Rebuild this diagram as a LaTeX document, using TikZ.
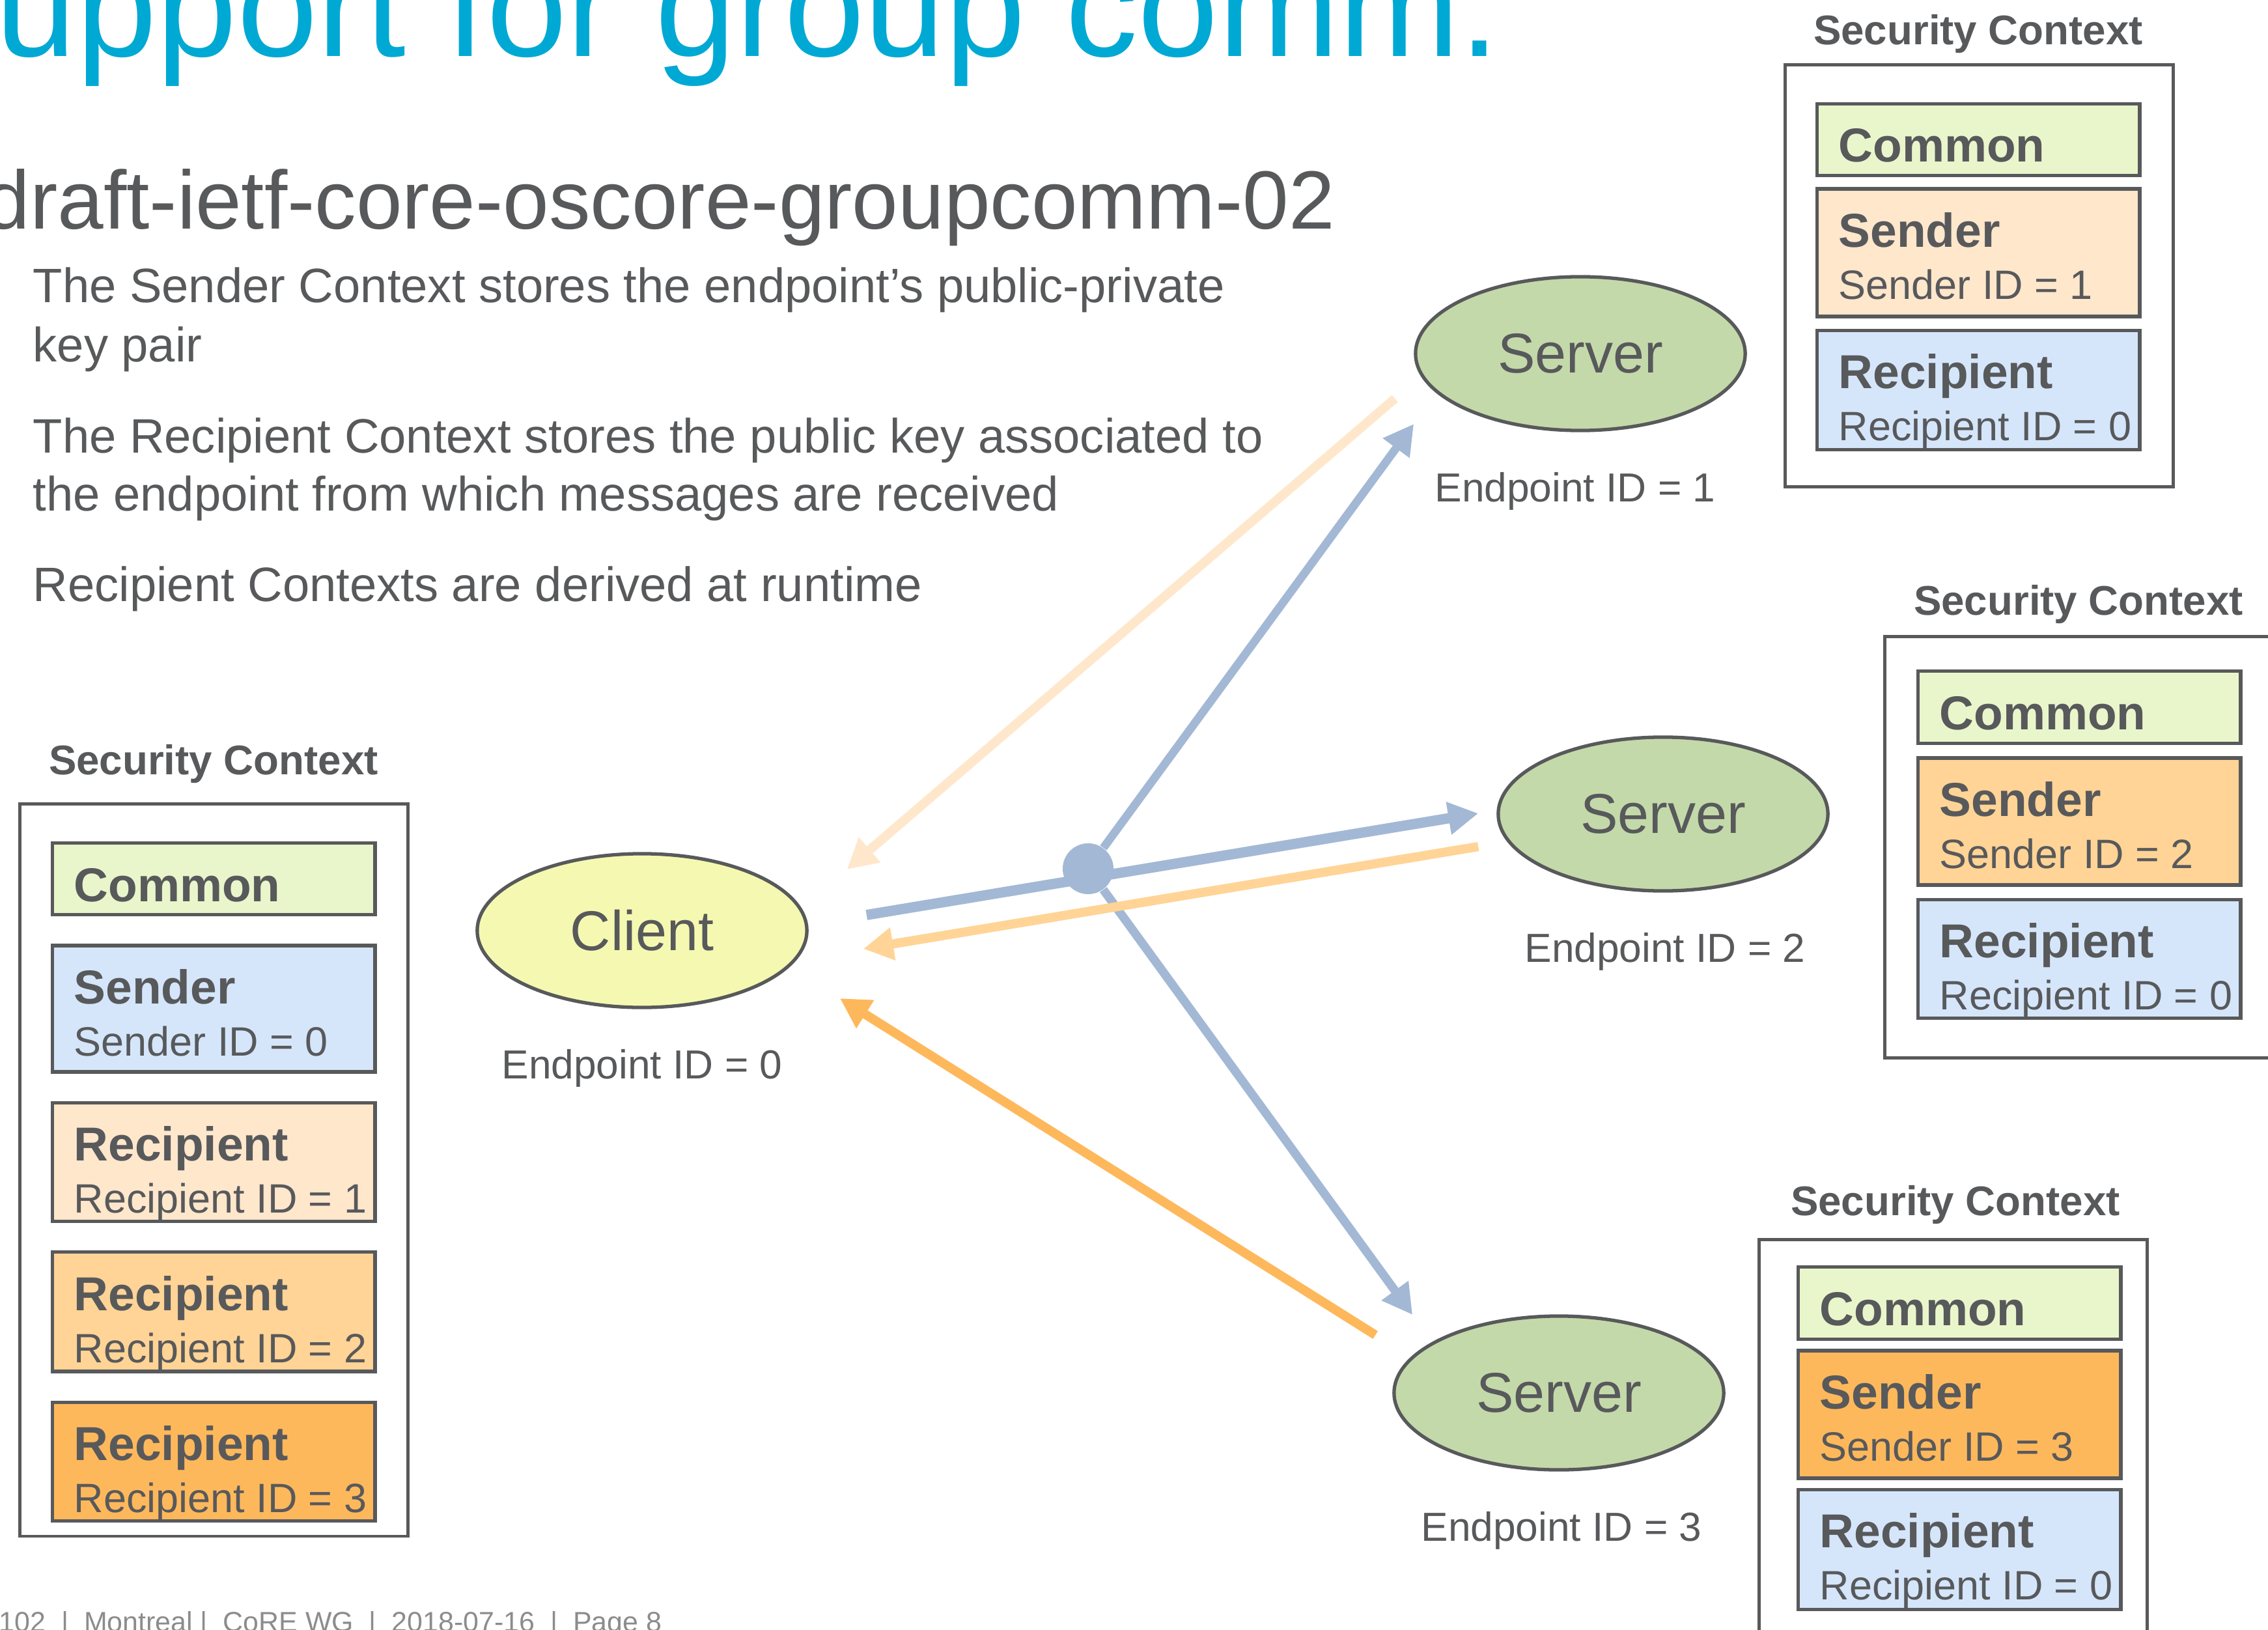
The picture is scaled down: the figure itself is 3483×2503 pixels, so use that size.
\documentclass[tikz,border=0pt]{standalone}
\usepackage{fontspec}
\setmainfont{Liberation Sans}
\usetikzlibrary{calc, positioning, shapes.geometric, arrows.meta}

\definecolor{textgray}{HTML}{58595B}
\definecolor{titlecyan}{HTML}{00A9D4}
\definecolor{footgray}{HTML}{8C8C8C}
\definecolor{servergreen}{HTML}{C4D9AA}
\definecolor{clientyellow}{HTML}{F5F8B0}
\definecolor{commongreen}{HTML}{E9F6CB}
\definecolor{ctxblue}{HTML}{D5E6FB}
\definecolor{peach}{HTML}{FFE7CC}
\definecolor{midorange}{HTML}{FFD496}
\definecolor{darkorange}{HTML}{FEB85C}
\definecolor{linkblue}{HTML}{A3B8D4}

\begin{document}
\begin{tikzpicture}[x=0.01cm, y=-0.01cm,
    ctxframe/.style={draw=textgray, line width=1.3pt, anchor=north west, minimum width=5.96cm, inner sep=0pt},
    partbox/.style={draw=textgray, line width=1.5pt, minimum width=4.95cm, inner sep=0pt},
    parthead/.style={anchor=base west, inner sep=0pt, text=textgray, font=\fontsize{20.8}{24}\selectfont\bfseries},
    partid/.style={anchor=base west, inner sep=0pt, text=textgray, font=\fontsize{17.9}{21}\selectfont},
    ctxtitle/.style={anchor=base, inner sep=0pt, text=textgray, font=\fontsize{18.1}{21}\selectfont\bfseries},
    endpoint/.style={ellipse, draw=textgray, line width=1.5pt, minimum width=5.06cm, minimum height=2.36cm, inner sep=0pt, text=textgray, font=\fontsize{24.5}{28}\selectfont},
    idlabel/.style={anchor=base, inner sep=0pt, text=textgray, font=\fontsize{17.7}{21}\selectfont},
    bodytext/.style={anchor=base west, inner sep=0pt, text=textgray, font=\fontsize{21.1}{25}\selectfont},
    msgarrow/.style={line width=4pt, -{Triangle[length=0.46cm, width=0.48cm]}},
  ]

    \useasboundingbox (0,0) rectangle (3483,2503);

    % heading
    \node[anchor=base west, inner sep=0pt, text=titlecyan, font=\fontsize{63.2}{70}\selectfont] (title) at (-7,87) {upport for group comm.};
    \node[anchor=base west, inner sep=0pt, text=textgray, font=\fontsize{36.1}{40}\selectfont] (subtitle) at (-25,351) {draft-ietf-core-oscore-groupcomm-02};

    \node[bodytext] (b1) at (50,465) {The Sender Context stores the endpoint’s public-private};
    \node[bodytext] (b2) at (50,555) {key pair};
    \node[bodytext] (b3) at (50,695) {The Recipient Context stores the public key associated to};
    \node[bodytext] (b4) at (50,784) {the endpoint from which messages are received};
    \node[bodytext] (b5) at (50,923) {Recipient Contexts are derived at runtime};

    % endpoints
    \node[endpoint, fill=clientyellow] (client) at (986,1429) {Client};
    \node[endpoint, fill=servergreen] (server1) at (2427,543) {Server};
    \node[endpoint, fill=servergreen] (server2) at (2554,1250) {Server};
    \node[endpoint, fill=servergreen] (server3) at (2394,2139) {Server};

    \node[idlabel] (id0) at ($(client.south)+(0,107)$) {Endpoint ID = 0};
    \node[idlabel] (id1) at ($(server1.south)+(-8,107)$) {Endpoint ID = 1};
    \node[idlabel] (id2) at ($(server2.south)+(3,107)$) {Endpoint ID = 2};
    \node[idlabel] (id3) at ($(server3.south)+(4,107)$) {Endpoint ID = 3};

    % client context
    \node[ctxframe, minimum height=11.24cm] (ctx0) at (28,1232) {};
    \node[ctxtitle] (ctx0-t) at (328,1189) {Security Context};
    \node[partbox, fill=commongreen, minimum height=1.10cm, anchor=north west] (ctx0-c) at (78,1292) {};
    \node[partbox, fill=ctxblue, minimum height=1.94cm, below=0.42cm of ctx0-c] (ctx0-s) {};
    \node[partbox, fill=peach, minimum height=1.82cm, below=0.42cm of ctx0-s] (ctx0-r1) {};
    \node[partbox, fill=midorange, minimum height=1.83cm, below=0.42cm of ctx0-r1] (ctx0-r2) {};
    \node[partbox, fill=darkorange, minimum height=1.82cm, below=0.42cm of ctx0-r2] (ctx0-r3) {};

    % server contexts
    \node[ctxframe, minimum height=6.48cm] (ctx1) at (2739,97) {};
    \node[ctxtitle] (ctx1-t) at (3038,69) {Security Context};
    \node[partbox, fill=commongreen, minimum height=1.10cm, anchor=north west] (ctx1-c) at (2788,157) {};
    \node[partbox, fill=peach, minimum height=1.96cm, below=0.15cm of ctx1-c] (ctx1-s) {};
    \node[partbox, fill=ctxblue, minimum height=1.83cm, below=0.16cm of ctx1-s] (ctx1-r) {};

    \node[ctxframe, minimum height=6.47cm] (ctx2) at (2892,975) {};
    \node[ctxtitle] (ctx2-t) at (3192,944) {Security Context};
    \node[partbox, fill=commongreen, minimum height=1.11cm, anchor=north west] (ctx2-c) at (2943,1028) {};
    \node[partbox, fill=midorange, minimum height=1.95cm, below=0.17cm of ctx2-c] (ctx2-s) {};
    \node[partbox, fill=ctxblue, minimum height=1.82cm, below=0.17cm of ctx2-s] (ctx2-r) {};

    \node[ctxframe, minimum height=6.48cm] (ctx3) at (2699,1901) {};
    \node[ctxtitle] (ctx3-t) at (3003,1866) {Security Context};
    \node[partbox, fill=commongreen, minimum height=1.11cm, anchor=north west] (ctx3-c) at (2759,1943) {};
    \node[partbox, fill=darkorange, minimum height=1.96cm, below=0.12cm of ctx3-c] (ctx3-s) {};
    \node[partbox, fill=ctxblue, minimum height=1.84cm, below=0.12cm of ctx3-s] (ctx3-r) {};

    \foreach \b in {ctx0-c, ctx1-c, ctx2-c, ctx3-c}
        \node[parthead] (\b-h) at ($(\b.north west)+(35,92)$) {Common};
    \foreach \b/\h/\i in {ctx0-s/Sender/Sender ID = 0, ctx0-r1/Recipient/Recipient ID = 1,
            ctx0-r2/Recipient/Recipient ID = 2, ctx0-r3/Recipient/Recipient ID = 3,
            ctx1-s/Sender/Sender ID = 1, ctx1-r/Recipient/Recipient ID = 0,
            ctx2-s/Sender/Sender ID = 2, ctx2-r/Recipient/Recipient ID = 0,
            ctx3-s/Sender/Sender ID = 3, ctx3-r/Recipient/Recipient ID = 0} {
        \node[parthead] (\b-h) at ($(\b.north west)+(35,92)$) {\h};
        \node[partid] (\b-id) at ($(\b.north west)+(35,172)$) {\i};
    }

    % messages
    \node[circle, fill=linkblue, minimum size=0.78cm, inner sep=0pt] (hub) at (1671,1334) {};

    \coordinate (c-out) at ($(client.east)+(89,-24)$);
    \coordinate (s1-in) at ($(server1.west)+(0,108)$);
    \coordinate (s2-in) at ($(server2.west)+(-28,-1)$);
    \coordinate (s3-in) at ($(server3.west)+(31,-120)$);
    \coordinate (s1-out) at ($(server1.west)+(-29,69)$);
    \coordinate (s2-out) at ($(server2.west)+(-28,50)$);
    \coordinate (s3-out) at ($(server3.west)+(-26,-89)$);
    \coordinate (c-in1) at ($(client.east)+(59,-94)$);
    \coordinate (c-in2) at ($(client.east)+(84,28)$);
    \coordinate (c-in3) at ($(client.east)+(48,104)$);

    \draw[msgarrow, draw=linkblue, line width=4.5pt] (c-out) -- (s2-in);
    \draw[msgarrow, draw=linkblue, line width=3.6pt] (hub) -- (s1-in);
    \draw[msgarrow, draw=linkblue, line width=3.8pt] (hub) -- (s3-in);

    \draw[msgarrow, draw=peach] (s1-out) -- (c-in1);
    \draw[msgarrow, draw=midorange] (s2-out) -- (c-in2);
    \draw[msgarrow, draw=darkorange] (s3-out) -- (c-in3);

    \node[anchor=base west, inner sep=0pt, text=footgray, font=\fontsize{12.2}{14}\selectfont] (footer) at (-2,2505) {102~~|~~Montreal~|~~CoRE WG~~|~~2018-07-16~~|~~Page 8};

\end{tikzpicture}
\end{document}
